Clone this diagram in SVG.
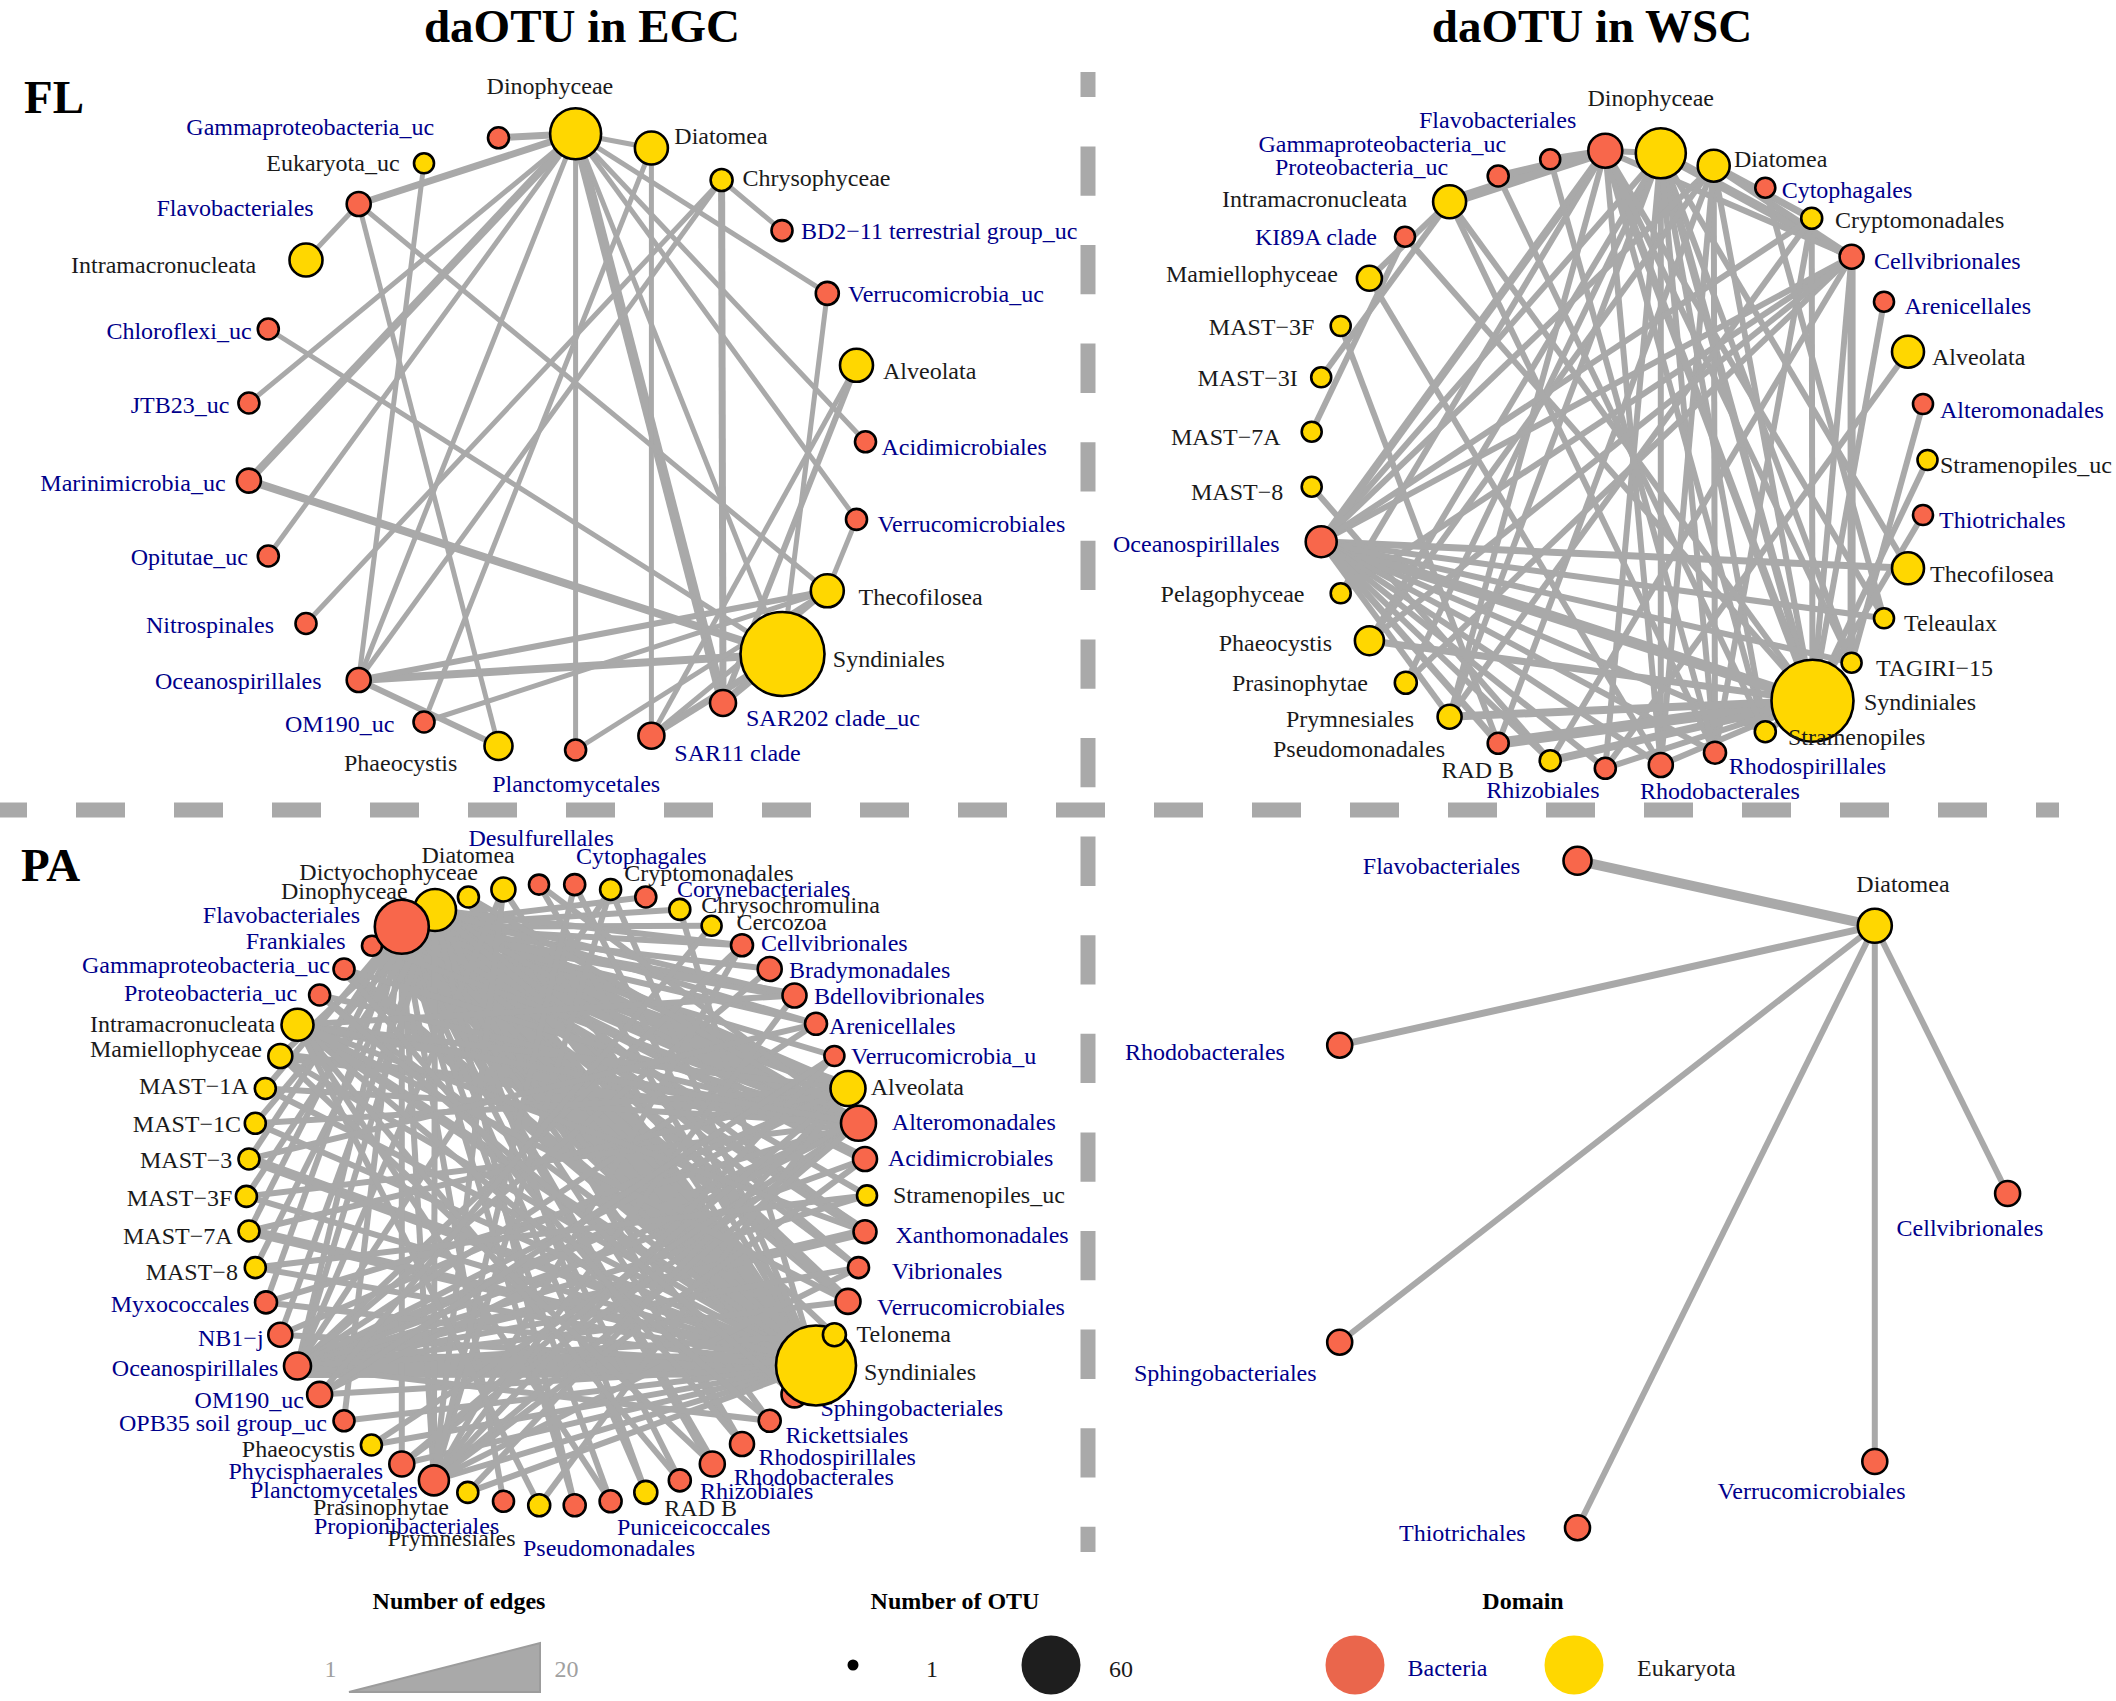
<svg xmlns="http://www.w3.org/2000/svg" width="2116" height="1701" viewBox="0 0 2116 1701">
<style>
.e{stroke:#A9A9A9;fill:none}
.w5{stroke-width:5}.w6{stroke-width:6}.w7{stroke-width:7}.w8{stroke-width:8}.w9{stroke-width:9}.w10{stroke-width:10}.w11{stroke-width:11}.w12{stroke-width:12}.w14{stroke-width:14}.w24{stroke-width:24}.w26{stroke-width:26}.w36{stroke-width:36}
.n{stroke:#000;stroke-width:2.6}
.R{fill:#F8674B}
.Y{fill:#FFD700}
text{font-family:"Liberation Serif","Times New Roman",serif;font-size:24px}
.b{fill:#00008B}
.k{fill:#1A1A1A}
.t{font-weight:bold;font-size:47px;fill:#000}
.lt{font-weight:bold;font-size:24px;fill:#000}
.g{fill:#A0A0A0}
.dash{stroke:#A9A9A9;stroke-width:15;fill:none}
</style>
<rect x="0" y="0" width="2116" height="1701" fill="#fff"/>
<g id="titles">
<text class="t" x="582" y="42" text-anchor="middle">daOTU in EGC</text>
<text class="t" x="1592" y="42" text-anchor="middle">daOTU in WSC</text>
<text class="t" x="24" y="113">FL</text>
<text class="t" x="21" y="881">PA</text>
</g>
<g id="dividers">
<line class="dash" x1="-22" y1="810" x2="2059" y2="810" stroke-dasharray="49 49"/>
<line class="dash" x1="1088" y1="72" x2="1088" y2="1552" stroke-dasharray="49.3 49.3" stroke-dashoffset="24.2"/>
</g>
<g id="connectors">
<g id="edges-fl-egc">
<line class="e w7" x1="575.6" y1="133.7" x2="498.5" y2="137.8"/>
<line class="e w5" x1="575.6" y1="133.7" x2="651.4" y2="148"/>
<line class="e w7" x1="575.6" y1="133.7" x2="358.7" y2="204"/>
<line class="e w8" x1="575.6" y1="133.7" x2="248.9" y2="480.6"/>
<line class="e w5" x1="575.6" y1="133.7" x2="248.9" y2="403"/>
<line class="e w5" x1="575.6" y1="133.7" x2="268.3" y2="556"/>
<line class="e w5" x1="575.6" y1="133.7" x2="358.7" y2="680"/>
<line class="e w5" x1="575.6" y1="133.7" x2="575.6" y2="750"/>
<line class="e w10" x1="575.6" y1="133.7" x2="723" y2="703"/>
<line class="e w5" x1="575.6" y1="133.7" x2="865.5" y2="441.8"/>
<line class="e w5" x1="575.6" y1="133.7" x2="856.5" y2="519.4"/>
<line class="e w5" x1="575.6" y1="133.7" x2="827.3" y2="293.4"/>
<line class="e w5" x1="575.6" y1="133.7" x2="782.5" y2="654"/>
<line class="e w5" x1="651.4" y1="148" x2="651.4" y2="735.7"/>
<line class="e w5" x1="651.4" y1="148" x2="424" y2="722"/>
<line class="e w5" x1="721.6" y1="180" x2="782" y2="230.6"/>
<line class="e w7" x1="721.6" y1="180" x2="723" y2="703"/>
<line class="e w5" x1="721.6" y1="180" x2="358.7" y2="680"/>
<line class="e w5" x1="721.6" y1="180" x2="306" y2="623.5"/>
<line class="e w5" x1="358.7" y1="204" x2="306" y2="260"/>
<line class="e w5" x1="358.7" y1="204" x2="498.5" y2="746"/>
<line class="e w5" x1="358.7" y1="204" x2="827.3" y2="590.8"/>
<line class="e w5" x1="424" y1="163.3" x2="358.7" y2="680"/>
<line class="e w5" x1="268.3" y1="329" x2="782.5" y2="654"/>
<line class="e w8" x1="248.9" y1="480.6" x2="782.5" y2="654"/>
<line class="e w8" x1="358.7" y1="680" x2="782.5" y2="654"/>
<line class="e w6" x1="358.7" y1="680" x2="827.3" y2="590.8"/>
<line class="e w6" x1="358.7" y1="680" x2="498.5" y2="746"/>
<line class="e w5" x1="424" y1="722" x2="827.3" y2="590.8"/>
<line class="e w5" x1="827.3" y1="293.4" x2="782.5" y2="654"/>
<line class="e w5" x1="856.5" y1="365.3" x2="651.4" y2="735.7"/>
<line class="e w6" x1="856.5" y1="365.3" x2="723" y2="703"/>
<line class="e w5" x1="856.5" y1="519.4" x2="827.3" y2="590.8"/>
<line class="e w5" x1="827.3" y1="590.8" x2="651.4" y2="735.7"/>
<line class="e w8" x1="782.5" y1="654" x2="723" y2="703"/>
<line class="e w7" x1="782.5" y1="654" x2="651.4" y2="735.7"/>
<line class="e w5" x1="575.6" y1="750" x2="827.3" y2="590.8"/>
</g>
<g id="edges-fl-wsc">
<line class="e w11" x1="1449.6" y1="201.7" x2="1605.3" y2="150.7"/>
<line class="e w7" x1="1550.2" y1="159.3" x2="1605.3" y2="150.7"/>
<line class="e w7" x1="1498.2" y1="176" x2="1605.3" y2="150.7"/>
<line class="e w6" x1="1660.8" y1="153.3" x2="1605.3" y2="150.7"/>
<line class="e w9" x1="1660.8" y1="153.3" x2="1851.6" y2="256.7"/>
<line class="e w7" x1="1713.7" y1="165.7" x2="1811.7" y2="218.3"/>
<line class="e w7" x1="1713.7" y1="165.7" x2="1851.6" y2="256.7"/>
<line class="e w6" x1="1605.3" y1="150.7" x2="1851.6" y2="256.7"/>
<line class="e w6" x1="1369.4" y1="278.3" x2="1449.6" y2="201.7"/>
<line class="e w6" x1="1321.2" y1="377.3" x2="1449.6" y2="201.7"/>
<line class="e w6" x1="1311.7" y1="431.7" x2="1405" y2="236.7"/>
<line class="e w6" x1="1405" y1="236.7" x2="1812.5" y2="700.7"/>
<line class="e w6" x1="1340.7" y1="326" x2="1498.2" y2="743.3"/>
<line class="e w6" x1="1369.4" y1="278.3" x2="1660.8" y2="765"/>
<line class="e w6" x1="1311.7" y1="486.7" x2="1550.2" y2="760.7"/>
<line class="e w6" x1="1340.7" y1="593.3" x2="1851.6" y2="256.7"/>
<line class="e w6" x1="1660.8" y1="153.3" x2="1321.2" y2="541.7"/>
<line class="e w8" x1="1660.8" y1="153.3" x2="1812.5" y2="700.7"/>
<line class="e w6" x1="1660.8" y1="153.3" x2="1660.8" y2="765"/>
<line class="e w6" x1="1660.8" y1="153.3" x2="1605.3" y2="768.3"/>
<line class="e w6" x1="1660.8" y1="153.3" x2="1405.8" y2="682.7"/>
<line class="e w6" x1="1660.8" y1="153.3" x2="1369.4" y2="640.7"/>
<line class="e w6" x1="1660.8" y1="153.3" x2="1908" y2="568.3"/>
<line class="e w6" x1="1660.8" y1="153.3" x2="1851.6" y2="662.7"/>
<line class="e w6" x1="1660.8" y1="153.3" x2="1765.3" y2="731.7"/>
<line class="e w6" x1="1660.8" y1="153.3" x2="1715" y2="752.7"/>
<line class="e w6" x1="1660.8" y1="153.3" x2="1449.6" y2="716.7"/>
<line class="e w8" x1="1605.3" y1="150.7" x2="1321.2" y2="541.7"/>
<line class="e w8" x1="1605.3" y1="150.7" x2="1812.5" y2="700.7"/>
<line class="e w6" x1="1605.3" y1="150.7" x2="1660.8" y2="765"/>
<line class="e w6" x1="1605.3" y1="150.7" x2="1765.3" y2="731.7"/>
<line class="e w6" x1="1605.3" y1="150.7" x2="1884" y2="618.3"/>
<line class="e w6" x1="1605.3" y1="150.7" x2="1449.6" y2="716.7"/>
<line class="e w6" x1="1605.3" y1="150.7" x2="1851.6" y2="662.7"/>
<line class="e w6" x1="1605.3" y1="150.7" x2="1340.7" y2="593.3"/>
<line class="e w6" x1="1713.7" y1="165.7" x2="1321.2" y2="541.7"/>
<line class="e w6" x1="1713.7" y1="165.7" x2="1369.4" y2="640.7"/>
<line class="e w6" x1="1713.7" y1="165.7" x2="1715" y2="752.7"/>
<line class="e w6" x1="1713.7" y1="165.7" x2="1812.5" y2="700.7"/>
<line class="e w6" x1="1713.7" y1="165.7" x2="1498.2" y2="743.3"/>
<line class="e w6" x1="1713.7" y1="165.7" x2="1660.8" y2="765"/>
<line class="e w6" x1="1851.6" y1="256.7" x2="1321.2" y2="541.7"/>
<line class="e w6" x1="1851.6" y1="256.7" x2="1812.5" y2="700.7"/>
<line class="e w8" x1="1851.6" y1="256.7" x2="1851.6" y2="662.7"/>
<line class="e w6" x1="1851.6" y1="256.7" x2="1405.8" y2="682.7"/>
<line class="e w6" x1="1851.6" y1="256.7" x2="1550.2" y2="760.7"/>
<line class="e w6" x1="1811.7" y1="218.3" x2="1812.5" y2="700.7"/>
<line class="e w6" x1="1811.7" y1="218.3" x2="1321.2" y2="541.7"/>
<line class="e w6" x1="1811.7" y1="218.3" x2="1715" y2="752.7"/>
<line class="e w6" x1="1811.7" y1="218.3" x2="1449.6" y2="716.7"/>
<line class="e w6" x1="1765.3" y1="187.7" x2="1884" y2="618.3"/>
<line class="e w6" x1="1884" y1="301.7" x2="1812.5" y2="700.7"/>
<line class="e w6" x1="1908" y1="351.7" x2="1605.3" y2="768.3"/>
<line class="e w6" x1="1923" y1="404" x2="1851.6" y2="662.7"/>
<line class="e w6" x1="1927.5" y1="460" x2="1812.5" y2="700.7"/>
<line class="e w6" x1="1923" y1="515" x2="1812.5" y2="700.7"/>
<line class="e w7" x1="1908" y1="568.3" x2="1321.2" y2="541.7"/>
<line class="e w6" x1="1884" y1="618.3" x2="1321.2" y2="541.7"/>
<line class="e w11" x1="1321.2" y1="541.7" x2="1812.5" y2="700.7"/>
<line class="e w6" x1="1321.2" y1="541.7" x2="1851.6" y2="662.7"/>
<line class="e w6" x1="1321.2" y1="541.7" x2="1765.3" y2="731.7"/>
<line class="e w6" x1="1321.2" y1="541.7" x2="1715" y2="752.7"/>
<line class="e w6" x1="1321.2" y1="541.7" x2="1660.8" y2="765"/>
<line class="e w6" x1="1321.2" y1="541.7" x2="1605.3" y2="768.3"/>
<line class="e w6" x1="1321.2" y1="541.7" x2="1550.2" y2="760.7"/>
<line class="e w7" x1="1321.2" y1="541.7" x2="1498.2" y2="743.3"/>
<line class="e w6" x1="1321.2" y1="541.7" x2="1449.6" y2="716.7"/>
<line class="e w11" x1="1812.5" y1="700.7" x2="1498.2" y2="743.3"/>
<line class="e w8" x1="1812.5" y1="700.7" x2="1550.2" y2="760.7"/>
<line class="e w8" x1="1812.5" y1="700.7" x2="1449.6" y2="716.7"/>
<line class="e w7" x1="1812.5" y1="700.7" x2="1369.4" y2="640.7"/>
<line class="e w6" x1="1812.5" y1="700.7" x2="1605.3" y2="768.3"/>
<line class="e w6" x1="1812.5" y1="700.7" x2="1660.8" y2="765"/>
<line class="e w6" x1="1812.5" y1="700.7" x2="1765.3" y2="731.7"/>
<line class="e w6" x1="1449.6" y1="201.7" x2="1812.5" y2="700.7"/>
<line class="e w6" x1="1449.6" y1="201.7" x2="1715" y2="752.7"/>
<line class="e w6" x1="1498.2" y1="176" x2="1765.3" y2="731.7"/>
<line class="e w6" x1="1550.2" y1="159.3" x2="1715" y2="752.7"/>
<line class="e w6" x1="1369.4" y1="640.7" x2="1851.6" y2="256.7"/>
</g>
<g id="edges-pa-egc">
<line class="e w36" x1="401.8" y1="926.8" x2="816" y2="1365.5"/>
<line class="e w26" x1="435" y1="910" x2="816" y2="1365.5"/>
<line class="e w24" x1="297.5" y1="1366" x2="816" y2="1365.5"/>
<line class="e w14" x1="401.8" y1="926.8" x2="858.5" y2="1123.3"/>
<line class="e w14" x1="401.8" y1="926.8" x2="848" y2="1088.5"/>
<line class="e w14" x1="435" y1="910" x2="858.5" y2="1123.3"/>
<line class="e w14" x1="372" y1="945.7" x2="816" y2="1365.5"/>
<line class="e w14" x1="344" y1="969" x2="816" y2="1365.5"/>
<line class="e w14" x1="468.4" y1="897" x2="816" y2="1365.5"/>
<line class="e w10" x1="401.8" y1="926.8" x2="865" y2="1159"/>
<line class="e w10" x1="401.8" y1="926.8" x2="865" y2="1231.7"/>
<line class="e w10" x1="401.8" y1="926.8" x2="848" y2="1301.4"/>
<line class="e w10" x1="401.8" y1="926.8" x2="794.5" y2="995.5"/>
<line class="e w10" x1="401.8" y1="926.8" x2="712.3" y2="1464"/>
<line class="e w10" x1="435" y1="910" x2="848" y2="1088.5"/>
<line class="e w10" x1="435" y1="910" x2="848" y2="1301.4"/>
<line class="e w10" x1="858.5" y1="1123.3" x2="297.5" y2="1024.8"/>
<line class="e w10" x1="858.5" y1="1123.3" x2="280.3" y2="1056"/>
<line class="e w10" x1="816" y1="1365.5" x2="297.5" y2="1024.8"/>
<line class="e w10" x1="816" y1="1365.5" x2="249" y2="1159"/>
<line class="e w10" x1="816" y1="1365.5" x2="249" y2="1231"/>
<line class="e w10" x1="297.5" y1="1366" x2="858.5" y2="1123.3"/>
<line class="e w10" x1="297.5" y1="1366" x2="865" y2="1231.7"/>
<line class="e w6" x1="401.8" y1="926.8" x2="645.8" y2="897"/>
<line class="e w6" x1="401.8" y1="926.8" x2="679.8" y2="909.4"/>
<line class="e w6" x1="401.8" y1="926.8" x2="711.6" y2="925.8"/>
<line class="e w6" x1="401.8" y1="926.8" x2="742" y2="945.2"/>
<line class="e w6" x1="401.8" y1="926.8" x2="769.7" y2="969"/>
<line class="e w6" x1="401.8" y1="926.8" x2="816" y2="1023.8"/>
<line class="e w6" x1="401.8" y1="926.8" x2="834.4" y2="1056"/>
<line class="e w6" x1="401.8" y1="926.8" x2="867" y2="1195.4"/>
<line class="e w6" x1="401.8" y1="926.8" x2="858.5" y2="1267.6"/>
<line class="e w6" x1="401.8" y1="926.8" x2="834.4" y2="1334.7"/>
<line class="e w6" x1="401.8" y1="926.8" x2="794.5" y2="1394.4"/>
<line class="e w6" x1="401.8" y1="926.8" x2="769.7" y2="1420.8"/>
<line class="e w6" x1="401.8" y1="926.8" x2="742" y2="1444"/>
<line class="e w6" x1="401.8" y1="926.8" x2="679.8" y2="1480.4"/>
<line class="e w6" x1="401.8" y1="926.8" x2="645.8" y2="1492.4"/>
<line class="e w6" x1="401.8" y1="926.8" x2="610.6" y2="1501.3"/>
<line class="e w6" x1="401.8" y1="926.8" x2="574.7" y2="1505.3"/>
<line class="e w6" x1="401.8" y1="926.8" x2="503.5" y2="1501.3"/>
<line class="e w6" x1="401.8" y1="926.8" x2="433.9" y2="1480.4"/>
<line class="e w6" x1="401.8" y1="926.8" x2="401.8" y2="1464"/>
<line class="e w6" x1="401.8" y1="926.8" x2="344" y2="1420.8"/>
<line class="e w6" x1="401.8" y1="926.8" x2="297.5" y2="1366"/>
<line class="e w6" x1="401.8" y1="926.8" x2="266" y2="1302.4"/>
<line class="e w6" x1="401.8" y1="926.8" x2="249" y2="1231"/>
<line class="e w6" x1="401.8" y1="926.8" x2="249" y2="1159"/>
<line class="e w6" x1="401.8" y1="926.8" x2="265.3" y2="1088.5"/>
<line class="e w6" x1="435" y1="910" x2="742" y2="945.2"/>
<line class="e w6" x1="435" y1="910" x2="794.5" y2="995.5"/>
<line class="e w6" x1="435" y1="910" x2="865" y2="1159"/>
<line class="e w6" x1="435" y1="910" x2="865" y2="1231.7"/>
<line class="e w6" x1="435" y1="910" x2="742" y2="1444"/>
<line class="e w6" x1="435" y1="910" x2="645.8" y2="1492.4"/>
<line class="e w6" x1="435" y1="910" x2="574.7" y2="1505.3"/>
<line class="e w6" x1="435" y1="910" x2="433.9" y2="1480.4"/>
<line class="e w6" x1="435" y1="910" x2="297.5" y2="1366"/>
<line class="e w6" x1="435" y1="910" x2="280.3" y2="1334.7"/>
<line class="e w6" x1="435" y1="910" x2="255.3" y2="1267.6"/>
<line class="e w6" x1="435" y1="910" x2="246.4" y2="1196.4"/>
<line class="e w6" x1="435" y1="910" x2="255.3" y2="1123.3"/>
<line class="e w6" x1="435" y1="910" x2="280.3" y2="1056"/>
<line class="e w6" x1="435" y1="910" x2="816" y2="1023.8"/>
<line class="e w6" x1="435" y1="910" x2="858.5" y2="1267.6"/>
<line class="e w6" x1="816" y1="1365.5" x2="503.4" y2="889.5"/>
<line class="e w6" x1="816" y1="1365.5" x2="539" y2="884.6"/>
<line class="e w6" x1="816" y1="1365.5" x2="574.7" y2="884.6"/>
<line class="e w6" x1="816" y1="1365.5" x2="610.6" y2="889.5"/>
<line class="e w6" x1="816" y1="1365.5" x2="679.8" y2="909.4"/>
<line class="e w6" x1="816" y1="1365.5" x2="280.3" y2="1056"/>
<line class="e w6" x1="816" y1="1365.5" x2="265.3" y2="1088.5"/>
<line class="e w6" x1="816" y1="1365.5" x2="255.3" y2="1123.3"/>
<line class="e w6" x1="816" y1="1365.5" x2="246.4" y2="1196.4"/>
<line class="e w6" x1="816" y1="1365.5" x2="255.3" y2="1267.6"/>
<line class="e w6" x1="816" y1="1365.5" x2="266" y2="1302.4"/>
<line class="e w6" x1="816" y1="1365.5" x2="280.3" y2="1334.7"/>
<line class="e w6" x1="816" y1="1365.5" x2="319.6" y2="1394.4"/>
<line class="e w6" x1="816" y1="1365.5" x2="344" y2="1420.8"/>
<line class="e w6" x1="816" y1="1365.5" x2="371.4" y2="1445"/>
<line class="e w6" x1="816" y1="1365.5" x2="401.8" y2="1464"/>
<line class="e w6" x1="816" y1="1365.5" x2="433.9" y2="1480.4"/>
<line class="e w6" x1="816" y1="1365.5" x2="467.8" y2="1492.4"/>
<line class="e w6" x1="816" y1="1365.5" x2="319.6" y2="995"/>
<line class="e w6" x1="297.5" y1="1366" x2="742" y2="945.2"/>
<line class="e w6" x1="297.5" y1="1366" x2="769.7" y2="969"/>
<line class="e w6" x1="297.5" y1="1366" x2="816" y2="1023.8"/>
<line class="e w6" x1="297.5" y1="1366" x2="848" y2="1088.5"/>
<line class="e w6" x1="297.5" y1="1366" x2="865" y2="1159"/>
<line class="e w6" x1="297.5" y1="1366" x2="867" y2="1195.4"/>
<line class="e w6" x1="297.5" y1="1366" x2="858.5" y2="1267.6"/>
<line class="e w6" x1="297.5" y1="1366" x2="848" y2="1301.4"/>
<line class="e w6" x1="297.5" y1="1366" x2="834.4" y2="1334.7"/>
<line class="e w6" x1="297.5" y1="1366" x2="769.7" y2="1420.8"/>
<line class="e w6" x1="297.5" y1="1366" x2="503.4" y2="889.5"/>
<line class="e w6" x1="297.5" y1="1366" x2="610.6" y2="889.5"/>
<line class="e w6" x1="858.5" y1="1123.3" x2="319.6" y2="995"/>
<line class="e w6" x1="858.5" y1="1123.3" x2="344" y2="969"/>
<line class="e w6" x1="858.5" y1="1123.3" x2="372" y2="945.7"/>
<line class="e w6" x1="858.5" y1="1123.3" x2="265.3" y2="1088.5"/>
<line class="e w6" x1="858.5" y1="1123.3" x2="246.4" y2="1196.4"/>
<line class="e w6" x1="858.5" y1="1123.3" x2="266" y2="1302.4"/>
<line class="e w6" x1="858.5" y1="1123.3" x2="319.6" y2="1394.4"/>
<line class="e w6" x1="858.5" y1="1123.3" x2="371.4" y2="1445"/>
<line class="e w6" x1="858.5" y1="1123.3" x2="401.8" y2="1464"/>
<line class="e w6" x1="858.5" y1="1123.3" x2="433.9" y2="1480.4"/>
<line class="e w6" x1="858.5" y1="1123.3" x2="468.4" y2="897"/>
<line class="e w6" x1="858.5" y1="1123.3" x2="539" y2="884.6"/>
<line class="e w6" x1="848" y1="1088.5" x2="297.5" y2="1024.8"/>
<line class="e w6" x1="848" y1="1088.5" x2="255.3" y2="1123.3"/>
<line class="e w6" x1="848" y1="1088.5" x2="249" y2="1231"/>
<line class="e w6" x1="848" y1="1088.5" x2="280.3" y2="1334.7"/>
<line class="e w6" x1="848" y1="1088.5" x2="401.8" y2="1464"/>
<line class="e w6" x1="848" y1="1088.5" x2="467.8" y2="1492.4"/>
<line class="e w6" x1="848" y1="1088.5" x2="539.2" y2="1505.3"/>
<line class="e w6" x1="433.9" y1="1480.4" x2="742" y2="945.2"/>
<line class="e w6" x1="433.9" y1="1480.4" x2="794.5" y2="995.5"/>
<line class="e w6" x1="433.9" y1="1480.4" x2="834.4" y2="1056"/>
<line class="e w6" x1="433.9" y1="1480.4" x2="865" y2="1159"/>
<line class="e w6" x1="433.9" y1="1480.4" x2="858.5" y2="1267.6"/>
<line class="e w6" x1="433.9" y1="1480.4" x2="610.6" y2="889.5"/>
<line class="e w6" x1="433.9" y1="1480.4" x2="574.7" y2="884.6"/>
<line class="e w6" x1="433.9" y1="1480.4" x2="503.4" y2="889.5"/>
<line class="e w6" x1="297.5" y1="1024.8" x2="794.5" y2="995.5"/>
<line class="e w6" x1="297.5" y1="1024.8" x2="858.5" y2="1123.3"/>
<line class="e w6" x1="297.5" y1="1024.8" x2="865" y2="1231.7"/>
<line class="e w6" x1="297.5" y1="1024.8" x2="848" y2="1301.4"/>
<line class="e w6" x1="297.5" y1="1024.8" x2="769.7" y2="1420.8"/>
<line class="e w6" x1="297.5" y1="1024.8" x2="679.8" y2="1480.4"/>
<line class="e w6" x1="297.5" y1="1024.8" x2="610.6" y2="1501.3"/>
<line class="e w6" x1="297.5" y1="1024.8" x2="539.2" y2="1505.3"/>
<line class="e w6" x1="344" y1="969" x2="742" y2="1444"/>
<line class="e w6" x1="319.6" y1="995" x2="794.5" y2="1394.4"/>
<line class="e w6" x1="280.3" y1="1056" x2="712.3" y2="1464"/>
<line class="e w6" x1="319.6" y1="1394.4" x2="834.4" y2="1056"/>
<line class="e w6" x1="319.6" y1="1394.4" x2="711.6" y2="925.8"/>
<line class="e w6" x1="255.3" y1="1267.6" x2="867" y2="1195.4"/>
<line class="e w6" x1="249" y1="1159" x2="816" y2="1023.8"/>
</g>
<g id="edges-pa-wsc">
<line class="e w10" x1="1874.8" y1="925.8" x2="1577.5" y2="860.7"/>
<line class="e w7" x1="1874.8" y1="925.8" x2="1339.7" y2="1045.2"/>
<line class="e w6" x1="1874.8" y1="925.8" x2="1339.7" y2="1342.2"/>
<line class="e w6" x1="1874.8" y1="925.8" x2="1577.5" y2="1527.7"/>
<line class="e w6" x1="1874.8" y1="925.8" x2="1874.8" y2="1461.5"/>
<line class="e w6" x1="1874.8" y1="925.8" x2="2007.6" y2="1193.5"/>
</g>
</g>
<g id="nodes-fl-egc">
<g id="fle-dinophyceae"><circle class="n Y" cx="575.6" cy="133.7" r="25.5"/><text class="k" x="486.6" y="94.4">Dinophyceae</text></g>
<g id="fle-gammaproteobacteria"><circle class="n R" cx="498.5" cy="137.8" r="10.5"/><text class="b" x="186.3" y="135.2">Gammaproteobacteria_uc</text></g>
<g id="fle-diatomea"><circle class="n Y" cx="651.4" cy="148" r="16.5"/><text class="k" x="674.3" y="144.4">Diatomea</text></g>
<g id="fle-eukaryota"><circle class="n Y" cx="424" cy="163.3" r="10"/><text class="k" x="266.3" y="171">Eukaryota_uc</text></g>
<g id="fle-chrysophyceae"><circle class="n Y" cx="721.6" cy="180" r="11"/><text class="k" x="742.5" y="186.2">Chrysophyceae</text></g>
<g id="fle-flavobacteriales"><circle class="n R" cx="358.7" cy="204" r="12"/><text class="b" x="156.4" y="215.8">Flavobacteriales</text></g>
<g id="fle-bd2-11"><circle class="n R" cx="782" cy="230.6" r="10.5"/><text class="b" x="800.9" y="238.8">BD2−11 terrestrial group_uc</text></g>
<g id="fle-intramacronucleata"><circle class="n Y" cx="306" cy="260" r="16.5"/><text class="k" x="71" y="273">Intramacronucleata</text></g>
<g id="fle-verrucomicrobia-uc"><circle class="n R" cx="827.3" cy="293.4" r="11.5"/><text class="b" x="848" y="302">Verrucomicrobia_uc</text></g>
<g id="fle-chloroflexi"><circle class="n R" cx="268.3" cy="329" r="10.5"/><text class="b" x="106.4" y="339.3">Chloroflexi_uc</text></g>
<g id="fle-alveolata"><circle class="n Y" cx="856.5" cy="365.3" r="16.5"/><text class="k" x="883" y="378.6">Alveolata</text></g>
<g id="fle-jtb23"><circle class="n R" cx="248.9" cy="403" r="10.5"/><text class="b" x="130.7" y="413.3">JTB23_uc</text></g>
<g id="fle-acidimicrobiales"><circle class="n R" cx="865.5" cy="441.8" r="10.5"/><text class="b" x="881.5" y="455">Acidimicrobiales</text></g>
<g id="fle-marinimicrobia"><circle class="n R" cx="248.9" cy="480.6" r="12"/><text class="b" x="40.3" y="490.8">Marinimicrobia_uc</text></g>
<g id="fle-verrucomicrobiales"><circle class="n R" cx="856.5" cy="519.4" r="10.5"/><text class="b" x="877.4" y="531.6">Verrucomicrobiales</text></g>
<g id="fle-opitutae"><circle class="n R" cx="268.3" cy="556" r="10.5"/><text class="b" x="130.7" y="565.3">Opitutae_uc</text></g>
<g id="fle-thecofilosea"><circle class="n Y" cx="827.3" cy="590.8" r="16.5"/><text class="k" x="858.6" y="604.6">Thecofilosea</text></g>
<g id="fle-nitrospinales"><circle class="n R" cx="306" cy="623.5" r="10.5"/><text class="b" x="146" y="632.6">Nitrospinales</text></g>
<g id="fle-syndiniales"><circle class="n Y" cx="782.5" cy="654" r="42"/><text class="k" x="832.8" y="667.3">Syndiniales</text></g>
<g id="fle-oceanospirillales"><circle class="n R" cx="358.7" cy="680" r="12"/><text class="b" x="155" y="688.8">Oceanospirillales</text></g>
<g id="fle-sar202"><circle class="n R" cx="723" cy="703" r="13"/><text class="b" x="746" y="725.5">SAR202 clade_uc</text></g>
<g id="fle-om190"><circle class="n R" cx="424" cy="722" r="10.5"/><text class="b" x="285" y="732">OM190_uc</text></g>
<g id="fle-sar11"><circle class="n R" cx="651.4" cy="735.7" r="13"/><text class="b" x="674.3" y="761.2">SAR11 clade</text></g>
<g id="fle-phaeocystis"><circle class="n Y" cx="498.5" cy="746" r="14"/><text class="k" x="344" y="771.4">Phaeocystis</text></g>
<g id="fle-planctomycetales"><circle class="n R" cx="575.6" cy="750" r="10.5"/><text class="b" x="492.2" y="792.3">Planctomycetales</text></g>
</g>
<g id="nodes-fl-wsc">
<g id="flw-dinophyceae"><circle class="n Y" cx="1660.8" cy="153.3" r="25"/><text class="k" x="1587.4" y="106">Dinophyceae</text></g>
<g id="flw-flavobacteriales"><circle class="n R" cx="1605.3" cy="150.7" r="17"/><text class="b" x="1419" y="128">Flavobacteriales</text></g>
<g id="flw-gammaproteobacteria"><circle class="n R" cx="1550.2" cy="159.3" r="10"/><text class="b" x="1258.4" y="151.7">Gammaproteobacteria_uc</text></g>
<g id="flw-diatomea"><circle class="n Y" cx="1713.7" cy="165.7" r="16"/><text class="k" x="1734" y="167.4">Diatomea</text></g>
<g id="flw-proteobacteria"><circle class="n R" cx="1498.2" cy="176" r="10.5"/><text class="b" x="1275" y="175">Proteobacteria_uc</text></g>
<g id="flw-cytophagales"><circle class="n R" cx="1765.3" cy="187.7" r="10"/><text class="b" x="1781.7" y="197.7">Cytophagales</text></g>
<g id="flw-intramacronucleata"><circle class="n Y" cx="1449.6" cy="201.7" r="16.5"/><text class="k" x="1222" y="206.6">Intramacronucleata</text></g>
<g id="flw-cryptomonadales"><circle class="n Y" cx="1811.7" cy="218.3" r="10.5"/><text class="k" x="1835" y="227.5">Cryptomonadales</text></g>
<g id="flw-ki89a"><circle class="n R" cx="1405" cy="236.7" r="10"/><text class="b" x="1255" y="244.8">KI89A clade</text></g>
<g id="flw-cellvibrionales"><circle class="n R" cx="1851.6" cy="256.7" r="12"/><text class="b" x="1874" y="269.3">Cellvibrionales</text></g>
<g id="flw-mamiellophyceae"><circle class="n Y" cx="1369.4" cy="278.3" r="12.5"/><text class="k" x="1166" y="282.4">Mamiellophyceae</text></g>
<g id="flw-arenicellales"><circle class="n R" cx="1884" cy="301.7" r="10"/><text class="b" x="1904.5" y="313.8">Arenicellales</text></g>
<g id="flw-mast-3f"><circle class="n Y" cx="1340.7" cy="326" r="10"/><text class="k" x="1208.8" y="334.7">MAST−3F</text></g>
<g id="flw-alveolata"><circle class="n Y" cx="1908" cy="351.7" r="16"/><text class="k" x="1932" y="364.5">Alveolata</text></g>
<g id="flw-mast-3i"><circle class="n Y" cx="1321.2" cy="377.3" r="10"/><text class="k" x="1197.6" y="386">MAST−3I</text></g>
<g id="flw-alteromonadales"><circle class="n R" cx="1923" cy="404" r="10"/><text class="b" x="1940" y="418.4">Alteromonadales</text></g>
<g id="flw-mast-7a"><circle class="n Y" cx="1311.7" cy="431.7" r="10"/><text class="k" x="1171" y="444.6">MAST−7A</text></g>
<g id="flw-stramenopiles-uc"><circle class="n Y" cx="1927.5" cy="460" r="10"/><text class="k" x="1940" y="473.3">Stramenopiles_uc</text></g>
<g id="flw-mast-8"><circle class="n Y" cx="1311.7" cy="486.7" r="10"/><text class="k" x="1191" y="499.5">MAST−8</text></g>
<g id="flw-thiotrichales"><circle class="n R" cx="1923" cy="515" r="10"/><text class="b" x="1939" y="528.2">Thiotrichales</text></g>
<g id="flw-oceanospirillales"><circle class="n R" cx="1321.2" cy="541.7" r="15.5"/><text class="b" x="1113" y="551.8">Oceanospirillales</text></g>
<g id="flw-thecofilosea"><circle class="n Y" cx="1908" cy="568.3" r="16"/><text class="k" x="1930" y="581.6">Thecofilosea</text></g>
<g id="flw-pelagophyceae"><circle class="n Y" cx="1340.7" cy="593.3" r="10"/><text class="k" x="1160.6" y="601.5">Pelagophyceae</text></g>
<g id="flw-teleaulax"><circle class="n Y" cx="1884" cy="618.3" r="10"/><text class="k" x="1904" y="631.3">Teleaulax</text></g>
<g id="flw-phaeocystis"><circle class="n Y" cx="1369.4" cy="640.7" r="14.5"/><text class="k" x="1218.7" y="651">Phaeocystis</text></g>
<g id="flw-syndiniales"><circle class="n Y" cx="1812.5" cy="700.7" r="41"/><text class="k" x="1864" y="710">Syndiniales</text></g>
<g id="flw-tagiri-15"><circle class="n Y" cx="1851.6" cy="662.7" r="10"/><text class="k" x="1876" y="676.2">TAGIRI−15</text></g>
<g id="flw-prasinophytae"><circle class="n Y" cx="1405.8" cy="682.7" r="11"/><text class="k" x="1232" y="691.4">Prasinophytae</text></g>
<g id="flw-prymnesiales"><circle class="n Y" cx="1449.6" cy="716.7" r="12"/><text class="k" x="1286" y="727">Prymnesiales</text></g>
<g id="flw-stramenopiles"><circle class="n Y" cx="1765.3" cy="731.7" r="10.5"/><text class="k" x="1788" y="745.3">Stramenopiles</text></g>
<g id="flw-pseudomonadales"><circle class="n R" cx="1498.2" cy="743.3" r="10.5"/><text class="k" x="1273" y="756.8">Pseudomonadales</text></g>
<g id="flw-rhodospirillales"><circle class="n R" cx="1715" cy="752.7" r="11"/><text class="b" x="1728.8" y="774">Rhodospirillales</text></g>
<g id="flw-rad-b"><circle class="n Y" cx="1550.2" cy="760.7" r="10.5"/><text class="k" x="1441.4" y="777.7">RAD B</text></g>
<g id="flw-rhizobiales"><circle class="n R" cx="1605.3" cy="768.3" r="10.5"/><text class="b" x="1486.3" y="797.6">Rhizobiales</text></g>
<g id="flw-rhodobacterales"><circle class="n R" cx="1660.8" cy="765" r="12"/><text class="b" x="1640" y="799">Rhodobacterales</text></g>
</g>
<g id="nodes-pa-egc">
<g id="pae-dinophyceae"><circle class="n Y" cx="435" cy="910" r="21"/><text class="k" x="281" y="898.5">Dinophyceae</text></g>
<g id="pae-frankiales"><circle class="n R" cx="372" cy="945.7" r="10"/><text class="b" x="245.7" y="949.2">Frankiales</text></g>
<g id="pae-flavobacteriales"><circle class="n R" cx="401.8" cy="926.8" r="27"/><text class="b" x="202.8" y="923.4">Flavobacteriales</text></g>
<g id="pae-dictyochophyceae"><circle class="n Y" cx="468.4" cy="897" r="10.5"/><text class="k" x="299.3" y="879.6">Dictyochophyceae</text></g>
<g id="pae-diatomea"><circle class="n Y" cx="503.4" cy="889.5" r="12"/><text class="k" x="421.4" y="863.2">Diatomea</text></g>
<g id="pae-desulfurellales"><circle class="n R" cx="539" cy="884.6" r="10"/><text class="b" x="468.5" y="845.8">Desulfurellales</text></g>
<g id="pae-cytophagales"><circle class="n R" cx="574.7" cy="884.6" r="10.5"/><text class="b" x="576" y="863.7">Cytophagales</text></g>
<g id="pae-cryptomonadales"><circle class="n Y" cx="610.6" cy="889.5" r="10.5"/><text class="k" x="624.3" y="881">Cryptomonadales</text></g>
<g id="pae-corynebacteriales"><circle class="n R" cx="645.8" cy="897" r="10.5"/><text class="b" x="677" y="897">Corynebacteriales</text></g>
<g id="pae-chrysochromulina"><circle class="n Y" cx="679.8" cy="909.4" r="10.5"/><text class="k" x="701.3" y="913">Chrysochromulina</text></g>
<g id="pae-cercozoa"><circle class="n Y" cx="711.6" cy="925.8" r="10"/><text class="k" x="736.4" y="930.3">Cercozoa</text></g>
<g id="pae-cellvibrionales"><circle class="n R" cx="742" cy="945.2" r="11"/><text class="b" x="761" y="950.7">Cellvibrionales</text></g>
<g id="pae-bradymonadales"><circle class="n R" cx="769.7" cy="969" r="12"/><text class="b" x="789" y="977.6">Bradymonadales</text></g>
<g id="pae-bdellovibrionales"><circle class="n R" cx="794.5" cy="995.5" r="12"/><text class="b" x="814" y="1004">Bdellovibrionales</text></g>
<g id="pae-arenicellales"><circle class="n R" cx="816" cy="1023.8" r="11"/><text class="b" x="828.9" y="1033.8">Arenicellales</text></g>
<g id="pae-verrucomicrobia-u"><circle class="n R" cx="834.4" cy="1056" r="10"/><text class="b" x="851" y="1063.6">Verrucomicrobia_u</text></g>
<g id="pae-alveolata"><circle class="n Y" cx="848" cy="1088.5" r="17.5"/><text class="k" x="870.7" y="1094.5">Alveolata</text></g>
<g id="pae-alteromonadales"><circle class="n R" cx="858.5" cy="1123.3" r="17.5"/><text class="b" x="891.8" y="1129.8">Alteromonadales</text></g>
<g id="pae-acidimicrobiales"><circle class="n R" cx="865" cy="1159" r="12"/><text class="b" x="888" y="1165.6">Acidimicrobiales</text></g>
<g id="pae-stramenopiles-uc"><circle class="n Y" cx="867" cy="1195.4" r="10"/><text class="k" x="892.9" y="1203">Stramenopiles_uc</text></g>
<g id="pae-xanthomonadales"><circle class="n R" cx="865" cy="1231.7" r="11.5"/><text class="b" x="895.4" y="1242.7">Xanthomonadales</text></g>
<g id="pae-vibrionales"><circle class="n R" cx="858.5" cy="1267.6" r="10.5"/><text class="b" x="891.8" y="1278.5">Vibrionales</text></g>
<g id="pae-verrucomicrobiales"><circle class="n R" cx="848" cy="1301.4" r="12.5"/><text class="b" x="877" y="1314.8">Verrucomicrobiales</text></g>
<g id="pae-sphingobacteriales"><circle class="n R" cx="794.5" cy="1394.4" r="13"/><text class="b" x="820.4" y="1415.8">Sphingobacteriales</text></g>
<g id="pae-syndiniales"><circle class="n Y" cx="816" cy="1365.5" r="40"/><text class="k" x="864" y="1379.5">Syndiniales</text></g>
<g id="pae-telonema"><circle class="n Y" cx="834.4" cy="1334.7" r="11.5"/><text class="k" x="856.6" y="1342">Telonema</text></g>
<g id="pae-rickettsiales"><circle class="n R" cx="769.7" cy="1420.8" r="11"/><text class="b" x="785.6" y="1443">Rickettsiales</text></g>
<g id="pae-rhodospirillales"><circle class="n R" cx="742" cy="1444" r="12"/><text class="b" x="758.6" y="1465">Rhodospirillales</text></g>
<g id="pae-rhodobacterales"><circle class="n R" cx="712.3" cy="1464" r="12.5"/><text class="b" x="733.8" y="1485.4">Rhodobacterales</text></g>
<g id="pae-rhizobiales"><circle class="n R" cx="679.8" cy="1480.4" r="11"/><text class="b" x="700" y="1498.9">Rhizobiales</text></g>
<g id="pae-rad-b"><circle class="n Y" cx="645.8" cy="1492.4" r="11.5"/><text class="k" x="664.3" y="1516.3">RAD B</text></g>
<g id="pae-puniceicoccales"><circle class="n R" cx="610.6" cy="1501.3" r="11"/><text class="b" x="617" y="1534.7">Puniceicoccales</text></g>
<g id="pae-pseudomonadales"><circle class="n R" cx="574.7" cy="1505.3" r="11"/><text class="b" x="523" y="1556">Pseudomonadales</text></g>
<g id="pae-prymnesiales"><circle class="n Y" cx="539.2" cy="1505.3" r="11"/><text class="k" x="387.5" y="1546">Prymnesiales</text></g>
<g id="pae-propionibacteriales"><circle class="n R" cx="503.5" cy="1501.3" r="10.5"/><text class="b" x="314" y="1533.7">Propionibacteriales</text></g>
<g id="pae-prasinophytae"><circle class="n Y" cx="467.8" cy="1492.4" r="10.5"/><text class="k" x="313" y="1514.8">Prasinophytae</text></g>
<g id="pae-planctomycetales"><circle class="n R" cx="433.9" cy="1480.4" r="15"/><text class="b" x="250" y="1498">Planctomycetales</text></g>
<g id="pae-phycisphaerales"><circle class="n R" cx="401.8" cy="1464" r="12.5"/><text class="b" x="228.5" y="1479">Phycisphaerales</text></g>
<g id="pae-phaeocystis"><circle class="n Y" cx="371.4" cy="1445" r="10.5"/><text class="k" x="241.8" y="1456.6">Phaeocystis</text></g>
<g id="pae-opb35"><circle class="n R" cx="344" cy="1420.8" r="10.5"/><text class="b" x="119" y="1430.7">OPB35 soil group_uc</text></g>
<g id="pae-om190"><circle class="n R" cx="319.6" cy="1394.4" r="12.5"/><text class="b" x="194.6" y="1407.8">OM190_uc</text></g>
<g id="pae-oceanospirillales"><circle class="n R" cx="297.5" cy="1366" r="13.5"/><text class="b" x="111.8" y="1375.5">Oceanospirillales</text></g>
<g id="pae-nb1-j"><circle class="n R" cx="280.3" cy="1334.7" r="12"/><text class="b" x="198" y="1345.6">NB1−j</text></g>
<g id="pae-myxococcales"><circle class="n R" cx="266" cy="1302.4" r="11"/><text class="b" x="110.7" y="1312.3">Myxococcales</text></g>
<g id="pae-mast-8"><circle class="n Y" cx="255.3" cy="1267.6" r="10.5"/><text class="k" x="145.7" y="1280">MAST−8</text></g>
<g id="pae-mast-7a"><circle class="n Y" cx="249" cy="1231" r="10.5"/><text class="k" x="123" y="1244">MAST−7A</text></g>
<g id="pae-mast-3f"><circle class="n Y" cx="246.4" cy="1196.4" r="10.5"/><text class="k" x="126.8" y="1206.4">MAST−3F</text></g>
<g id="pae-mast-3"><circle class="n Y" cx="249" cy="1159" r="10.5"/><text class="k" x="140" y="1168">MAST−3</text></g>
<g id="pae-mast-1c"><circle class="n Y" cx="255.3" cy="1123.3" r="10.5"/><text class="k" x="132.8" y="1131.8">MAST−1C</text></g>
<g id="pae-mast-1a"><circle class="n Y" cx="265.3" cy="1088.5" r="10.5"/><text class="k" x="139" y="1093.5">MAST−1A</text></g>
<g id="pae-mamiellophyceae"><circle class="n Y" cx="280.3" cy="1056" r="12"/><text class="k" x="90" y="1057">Mamiellophyceae</text></g>
<g id="pae-intramacronucleata"><circle class="n Y" cx="297.5" cy="1024.8" r="16"/><text class="k" x="90" y="1032.3">Intramacronucleata</text></g>
<g id="pae-proteobacteria"><circle class="n R" cx="319.6" cy="995" r="10.5"/><text class="b" x="124" y="1000.5">Proteobacteria_uc</text></g>
<g id="pae-gammaproteobacteria"><circle class="n R" cx="344" cy="969" r="10.5"/><text class="b" x="82" y="973">Gammaproteobacteria_uc</text></g>
</g>
<g id="nodes-pa-wsc">
<g id="paw-flavobacteriales"><circle class="n R" cx="1577.5" cy="860.7" r="14"/><text class="b" x="1362.8" y="873.6">Flavobacteriales</text></g>
<g id="paw-diatomea"><circle class="n Y" cx="1874.8" cy="925.8" r="17"/><text class="k" x="1856.3" y="892">Diatomea</text></g>
<g id="paw-rhodobacterales"><circle class="n R" cx="1339.7" cy="1045.2" r="12.5"/><text class="b" x="1125" y="1059.6">Rhodobacterales</text></g>
<g id="paw-cellvibrionales"><circle class="n R" cx="2007.6" cy="1193.5" r="12.5"/><text class="b" x="1896.6" y="1236.2">Cellvibrionales</text></g>
<g id="paw-sphingobacteriales"><circle class="n R" cx="1339.7" cy="1342.2" r="12.5"/><text class="b" x="1134" y="1380.5">Sphingobacteriales</text></g>
<g id="paw-verrucomicrobiales"><circle class="n R" cx="1874.8" cy="1461.5" r="12.5"/><text class="b" x="1717.6" y="1498.9">Verrucomicrobiales</text></g>
<g id="paw-thiotrichales"><circle class="n R" cx="1577.5" cy="1527.7" r="12.5"/><text class="b" x="1399" y="1541">Thiotrichales</text></g>
</g>
<g id="legend">
<text class="lt" x="459" y="1609" text-anchor="middle">Number of edges</text>
<polygon points="349,1692 540,1692 540,1643" fill="#A9A9A9" stroke="#9C9C9C" stroke-width="2"/>
<text class="g" x="330.5" y="1677" text-anchor="middle">1</text>
<text class="g" x="566.5" y="1677" text-anchor="middle">20</text>
<text class="lt" x="955" y="1609" text-anchor="middle">Number of OTU</text>
<circle cx="853" cy="1665" r="5.5" fill="#000"/>
<text class="k" x="932" y="1677" text-anchor="middle">1</text>
<circle cx="1051" cy="1665" r="29.5" fill="#1E1E1E"/>
<text class="k" x="1121" y="1677" text-anchor="middle">60</text>
<text class="lt" x="1523" y="1609" text-anchor="middle">Domain</text>
<circle cx="1355" cy="1665" r="29.5" fill="#EA664C"/>
<text class="b" x="1407.5" y="1676">Bacteria</text>
<circle cx="1574" cy="1665" r="29.5" fill="#FFD700"/>
<text class="k" x="1637" y="1676">Eukaryota</text>
</g>
</svg>
